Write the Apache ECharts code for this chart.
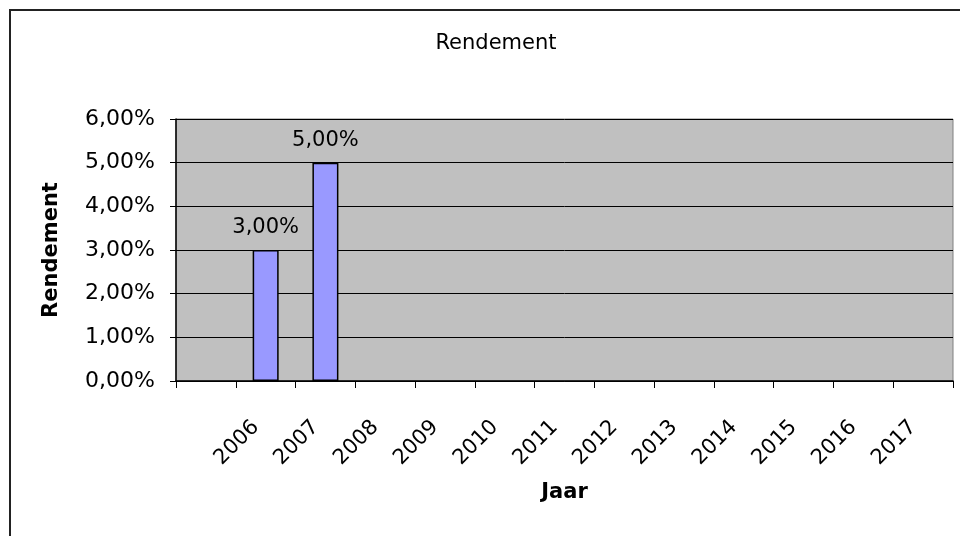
<!DOCTYPE html>
<html>
<head>
<meta charset="utf-8">
<style>
    html, body { margin: 0; padding: 0; background: #fff; }
    #chart { width: 960px; height: 536px; }
</style>
</head>
<body>
<div id="chart"></div>
<script src="https://cdn.jsdelivr.net/npm/echarts@6/dist/echarts.min.js"></script>
<script type="text/javascript">
    // data
    var jaren = ['', '2006', '2007', '2008', '2009', '2010', '2011', '2012', '2013', '2014', '2015', '2016', '2017'];
    var rendement = [null, 3, 5, null, null, null, null, null, null, null, null, null, null];
    var yTicks = [0, 1, 2, 3, 4, 5, 6];

    function pct(v) {
        return Number(v).toFixed(2).replace('.', ',') + '%';
    }

    var font = 'DejaVu Sans';
    var myChart = echarts.init(document.getElementById('chart'));

    var option = {
        animation: false,
        textStyle: { fontFamily: font },
        title: {
            text: 'Rendement',
            left: 491,
            top: 28,
            textAlign: 'center',
            textStyle: { fontFamily: font, fontSize: 21, fontWeight: 'normal', color: '#000' }
        },
        graphic: [{
            type: 'rect',
            shape: { x: 10, y: 10, width: 980, height: 560 },
            style: { fill: 'none', stroke: '#222', lineWidth: 2 },
            silent: true
        }],
        grid: {
            left: 176,
            top: 119,
            right: 7,
            bottom: 155,
            show: true,
            backgroundColor: '#C0C0C0',
            borderColor: '#808080',
            borderWidth: 1
        },
        xAxis: {
            type: 'category',
            data: jaren,
            name: 'Jaar',
            nameLocation: 'middle',
            nameGap: 101,
            nameTextStyle: { fontFamily: font, fontSize: 21, fontWeight: 'bold', color: '#000' },
            axisLine: { lineStyle: { color: '#000', width: 1.5 } },
            axisTick: { show: true, length: 7, lineStyle: { color: '#000' } },
            axisLabel: { rotate: 45, margin: 33, padding: [0, 14, 0, 0], fontFamily: font, fontSize: 21, color: '#000' },
            splitLine: { show: false }
        },
        yAxis: {
            type: 'value',
            min: yTicks[0],
            max: yTicks[yTicks.length - 1],
            interval: 1,
            name: 'Rendement',
            nameLocation: 'middle',
            nameGap: 114,
            nameTextStyle: { fontFamily: font, fontSize: 21, fontWeight: 'bold', color: '#000' },
            axisLine: { show: true, lineStyle: { color: '#000', width: 1.5 } },
            axisTick: { show: true, length: 6, lineStyle: { color: '#000' } },
            axisLabel: { margin: 21, fontFamily: font, fontSize: 22, color: '#000', formatter: pct },
            splitLine: { show: true, lineStyle: { color: '#000', width: 1 } }
        },
        series: [{
            type: 'bar',
            data: rendement,
            barWidth: 26,
            itemStyle: { color: '#9999FF', borderColor: '#000', borderWidth: 1.5 },
            label: {
                show: true,
                position: 'top',
                distance: 12,
                fontFamily: font,
                fontSize: 21,
                color: '#000',
                formatter: function (p) { return pct(p.value); }
            }
        }]
    };
    myChart.setOption(option);
</script>
</body>
</html>
